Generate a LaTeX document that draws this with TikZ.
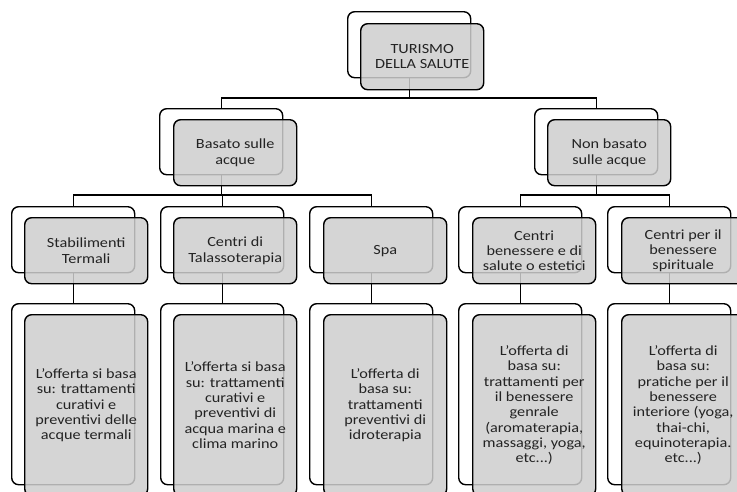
\documentclass[tikz,border=0pt]{standalone}
\usepackage{fontspec}
\setmainfont{Carlito}[FakeStretch=1.16]
\usetikzlibrary{backgrounds,calc}
\definecolor{frontgray}{RGB}{206,206,206}
\definecolor{txtgray}{RGB}{35,35,35}
\tikzset{
  backbox/.style={draw=black, line width=1.4pt, fill=white, rounded corners=7pt,
    anchor=north west, inner sep=0pt, minimum width=123pt},
  frontbox/.style={draw=black, line width=1.4pt, fill=frontgray, fill opacity=0.85,
    text opacity=1, rounded corners=7pt, anchor=north west, inner sep=0pt,
    minimum width=123pt, align=center, text=txtgray,
    font=\fontsize{14}{15.3}\selectfont},
  short/.style={minimum height=66pt},
  tall/.style={minimum height=181pt},
  conn/.style={draw=black, line width=1.1pt},
}
\begin{document}
\begin{tikzpicture}[x=1pt,y=-1pt]
\useasboundingbox (0,0) rectangle (737,491);
\clip (0,0) rectangle (737,491);
% level 1
\node[backbox,short] (r0b) at (347,11) {};
\node[frontbox,short] (r0) at ($(r0b.north west)+(13,12)$) {TURISMO\\DELLA SALUTE};
% level 2
\node[backbox,short] (aB) at (159,108) {};
\node[frontbox,short] (a) at ($(aB.north west)+(14,11)$) {Basato sulle\\acque};
\node[backbox,short] (bB) at (534,108) {};
\node[frontbox,short] (b) at ($(bB.north west)+(13,11)$) {Non basato\\sulle acque};
% level 3
\node[backbox,short] (c1b) at (11,206) {};
\node[frontbox,short] (c1) at ($(c1b.north west)+(13,11)$) {Stabilimenti\\Termali};
\node[backbox,short] (c2b) at (160,206) {};
\node[frontbox,short] (c2) at ($(c2b.north west)+(13,11)$) {Centri di\\Talassoterapia};
\node[backbox,short] (c3b) at (309,206) {};
\node[frontbox,short] (c3) at ($(c3b.north west)+(14,11)$) {Spa};
\node[backbox,short] (c4b) at (458,206) {};
\node[frontbox,short] (c4) at ($(c4b.north west)+(14,11)$) {Centri\\benessere e di\\salute o estetici};
\node[backbox,short] (c5b) at (607,206) {};
\node[frontbox,short] (c5) at ($(c5b.north west)+(14,11)$) {Centri per il\\benessere\\spirituale};
% level 4
\node[backbox,tall] (d1b) at (11,303) {};
\node[frontbox,tall] (d1) at ($(d1b.north west)+(13,11)$) {L'offerta si basa\\su: trattamenti\\curativi e\\preventivi delle\\acque termali};
\node[backbox,tall] (d2b) at (160,303) {};
\node[frontbox,tall] (d2) at ($(d2b.north west)+(13,11)$) {L'offerta si basa\\su: trattamenti\\curativi e\\preventivi di\\acqua marina e\\clima marino};
\node[backbox,tall] (d3b) at (309,303) {};
\node[frontbox,tall] (d3) at ($(d3b.north west)+(14,11)$) {L'offerta di\\basa su:\\trattamenti\\preventivi di\\idroterapia};
\node[backbox,tall] (d4b) at (458,303) {};
\node[frontbox,tall] (d4) at ($(d4b.north west)+(14,11)$) {L'offerta di\\basa su:\\trattamenti per\\il benessere\\genrale\\(aromaterapia,\\massaggi, yoga,\\etc...)};
\node[backbox,tall] (d5b) at (607,303) {};
\node[frontbox,tall] (d5) at ($(d5b.north west)+(14,11)$) {L'offerta di\\basa su:\\pratiche per il\\benessere\\interiore (yoga,\\thai-chi,\\equinoterapia.\\etc...)};
% connectors
\coordinate (busA) at (0,98);
\coordinate (busB) at (0,195);
\begin{pgfonlayer}{background}
\draw[conn] (r0b.south) -- (r0b.south |- busA) -| (aB.north);
\draw[conn] (r0b.south |- busA) -| (bB.north);
\draw[conn] (aB.south) -- (aB.south |- busB) -| (c1b.north);
\draw[conn] (aB.south |- busB) -| (c2b.north);
\draw[conn] (aB.south |- busB) -| (c3b.north);
\draw[conn] (bB.south) -- (bB.south |- busB) -| (c4b.north);
\draw[conn] (bB.south |- busB) -| (c5b.north);
\draw[conn] (c1b.south) -- (d1b.north);
\draw[conn] (c2b.south) -- (d2b.north);
\draw[conn] (c3b.south) -- (d3b.north);
\draw[conn] (c4b.south) -- (d4b.north);
\draw[conn] (c5b.south) -- (d5b.north);
\end{pgfonlayer}
\end{tikzpicture}
\end{document}
